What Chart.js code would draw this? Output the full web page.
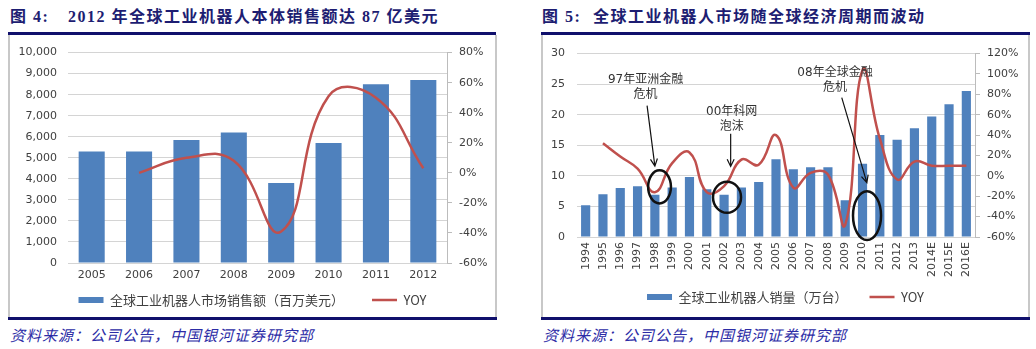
<!DOCTYPE html>
<html>
<head>
<meta charset="utf-8">
<script src="https://cdn.jsdelivr.net/npm/chart.js@4"></script>
<style>
  body { margin: 0; background: #fff; width: 1036px; height: 349px; position: relative; overflow: hidden; }
  .title { position: absolute; top: 6px; font-family: "Liberation Serif", "Noto Sans CJK SC", serif; font-weight: bold; font-size: 16px; color: #1d1d72; white-space: nowrap; letter-spacing: 1.5px; line-height: 22px; }
  .rule { position: absolute; height: 3px; background: #10106c; }
  .box { position: absolute; top: 35px; height: 282px; border-left: 2px solid #c8c8c8; border-right: 2px solid #c8c8c8; }
  .src { position: absolute; top: 325px; font-family: "Noto Sans CJK SC", sans-serif; font-style: italic; font-size: 15px; color: #2c2ca6; letter-spacing: 1px; white-space: nowrap; line-height: 20px; }
  canvas { position: absolute; }
</style>
</head>
<body>
<div class="title" style="left:10px">图 4:</div>
<div class="title" style="left:68px">2012 年全球工业机器人本体销售额达 87 亿美元</div>
<div class="title" style="left:542px">图 5:</div>
<div class="title" style="left:593px">全球工业机器人市场随全球经济周期而波动</div>

<div class="rule" style="left:8px; top:32px; width:488px"></div>
<div class="rule" style="left:8px; top:317px; width:489px"></div>
<div class="rule" style="left:541px; top:32px; width:489px"></div>
<div class="rule" style="left:541px; top:317px; width:489px"></div>

<div class="box" style="left:8px; width:485px"></div>
<div class="box" style="left:541px; width:485px"></div>

<canvas id="salesChart" style="left:10px; top:35px" width="485" height="282"></canvas>
<canvas id="unitChart" style="left:543px; top:35px" width="485" height="282"></canvas>

<div class="src" style="left:10px">资料来源：公司公告，中国银河证券研究部</div>
<div class="src" style="left:543px">资料来源：公司公告，中国银河证券研究部</div>

<script>
// Figure 4: global industrial robot sales (USD mn) and YOY
const salesYears = ['2005', '2006', '2007', '2008', '2009', '2010', '2011', '2012'];
const salesValues = [5300, 5300, 5850, 6200, 3800, 5700, 8500, 8700];
const salesYoy = [null, 0, 10, 8, -39, 51, 50, 3];
const salesTicks = [0, 1000, 2000, 3000, 4000, 5000, 6000, 7000, 8000, 9000, 10000];
const salesYoyTicks = [-60, -40, -20, 0, 20, 40, 60, 80];

// Figure 5: global industrial robot units (10k) and YOY
const unitYears = ['1994', '1995', '1996', '1997', '1998', '1999', '2000', '2001', '2002', '2003', '2004',
    '2005', '2006', '2007', '2008', '2009', '2010', '2011', '2012', '2013', '2014E', '2015E', '2016E'];
const unitValues = [5.2, 7.0, 8.0, 8.3, 6.9, 8.1, 9.8, 7.8, 6.9, 8.1, 9.0,
    12.7, 11.1, 11.4, 11.4, 6.0, 12.0, 16.7, 15.9, 17.8, 19.7, 21.7, 23.9];
const unitYoy = [null, 32, 19, 7, -16, 12.5, 23, -16, -10, 16, 11,
    40, -11.5, 3, 1.3, -48, 104, 36.5, -3.5, 14, 10, 10, 10];
const unitTicks = [0, 5, 10, 15, 20, 25, 30];
const unitYoyTicks = [-60, -40, -20, 0, 20, 40, 60, 80, 100, 120];

// crisis call-outs, in (category index, left-axis value)
const crisisNotes = [
    { text: ['97年亚洲金融', '危机'], at: [3.46, 25.7], from: [3.55, 21.5], to: [4.0, 11.6], ring: [4.27, 8.2, 0.66, 2.7] },
    { text: ['00年科网', '泡沫'], at: [8.44, 20.5], from: [8.38, 16.9], to: [8.38, 11.55], ring: [8.17, 6.5, 0.81, 2.55] },
    { text: ['08年全球金融', '危机'], at: [14.41, 26.8], from: [14.8, 22.8], to: [16.25, 8.9], ring: [16.26, 3.5, 0.81, 4.0] }
];

const BAR_BLUE = '#4f81bd';
const LINE_RED = '#c0504d';
const TEXT_GREY = '#404040';
const GRID_GREY = '#d4d4d4';
const AXIS_GREY = '#bcbcbc';
const tickFont = { family: 'DejaVu Sans', size: 11 };
const legendFont = { family: 'Noto Sans CJK SC', size: 13 };

function fixTicks(values) {
    return function (scale) {
        scale.ticks = values.map(v => ({ value: v }));
    };
}

function fixWidth(w) {
    return function (scale) { scale.width = w; };
}

function fixHeight(h) {
    return function (scale) { scale.height = h; };
}

function buildOptions(cfg) {
    return {
        responsive: false,
        animation: false,
        layout: { padding: cfg.padding },
        plugins: {
            tooltip: { enabled: false },
            legend: {
                position: 'bottom',
                // empty title with negative padding: keeps the wide gap between items
                // without pushing the legend row down
                title: { display: true, text: '', font: { size: 1 }, padding: { top: -cfg.legendLift, bottom: 0 } },
                labels: {
                    usePointStyle: true,
                    pointStyleWidth: 25,
                    boxWidth: 25,
                    boxHeight: 6,
                    padding: cfg.legendGap,
                    color: TEXT_GREY,
                    font: legendFont,
                    sort: (a, b) => a.datasetIndex - b.datasetIndex
                }
            }
        },
        scales: {
            x: {
                grid: { display: false, drawTicks: false },
                border: { display: false },
                ticks: {
                    color: TEXT_GREY, font: tickFont, padding: cfg.xPad,
                    autoSkip: false, minRotation: cfg.rotation, maxRotation: cfg.rotation
                },
                afterFit: fixHeight(cfg.xHeight)
            },
            y: {
                position: 'left',
                min: cfg.yTicks[0], max: cfg.yTicks[cfg.yTicks.length - 1],
                grid: { color: GRID_GREY, drawTicks: false },
                border: { display: false },
                ticks: { color: TEXT_GREY, font: tickFont, padding: cfg.yPad, callback: cfg.yFormat },
                afterBuildTicks: fixTicks(cfg.yTicks),
                afterFit: fixWidth(cfg.yWidth)
            },
            y1: {
                position: 'right',
                min: cfg.y1Ticks[0], max: cfg.y1Ticks[cfg.y1Ticks.length - 1],
                grid: { drawOnChartArea: false, color: AXIS_GREY, tickLength: 5 },
                border: { display: true, color: AXIS_GREY },
                ticks: { color: TEXT_GREY, font: tickFont, padding: 7, callback: v => v + '%' },
                afterBuildTicks: fixTicks(cfg.y1Ticks),
                afterFit: fixWidth(cfg.y1Width)
            }
        }
    };
}

// draws the arrows, rings and captions of figure 5
const crisisPlugin = {
    id: 'crisis',
    afterDatasetsDraw(chart) {
        const ctx = chart.ctx;
        const xs = chart.scales.x;
        const ys = chart.scales.y;
        const px = v => xs.getPixelForValue(v);
        const py = v => ys.getPixelForValue(v);
        const unitX = px(1) - px(0);
        const unitY = py(0) - py(1);
        ctx.save();
        crisisNotes.forEach(n => {
            // caption
            ctx.fillStyle = '#333';
            ctx.font = '12px "DejaVu Sans", "Noto Sans CJK SC"';
            ctx.textAlign = 'center';
            ctx.textBaseline = 'middle';
            n.text.forEach((t, i) => ctx.fillText(t, px(n.at[0]), py(n.at[1]) + i * 15));

            // arrow
            const x1 = px(n.from[0]), y1 = py(n.from[1]);
            const x2 = px(n.to[0]), y2 = py(n.to[1]);
            const ang = Math.atan2(y2 - y1, x2 - x1);
            ctx.strokeStyle = '#111';
            ctx.lineWidth = 1.2;
            ctx.beginPath();
            ctx.moveTo(x1, y1);
            ctx.lineTo(x2, y2);
            ctx.moveTo(x2 - 8 * Math.cos(ang - 0.45), y2 - 8 * Math.sin(ang - 0.45));
            ctx.lineTo(x2, y2);
            ctx.lineTo(x2 - 8 * Math.cos(ang + 0.45), y2 - 8 * Math.sin(ang + 0.45));
            ctx.stroke();

            // ring
            ctx.lineWidth = 2.5;
            ctx.beginPath();
            ctx.ellipse(px(n.ring[0]), py(n.ring[1]), n.ring[2] * unitX, n.ring[3] * unitY, 0, 0, Math.PI * 2);
            ctx.stroke();
        });
        ctx.restore();
    }
};

new Chart(document.getElementById('salesChart'), {
    type: 'bar',
    data: {
        labels: salesYears,
        datasets: [
            {
                label: '全球工业机器人市场销售额（百万美元）',
                data: salesValues,
                backgroundColor: BAR_BLUE,
                borderWidth: 0,
                barPercentage: 0.55,
                categoryPercentage: 1,
                pointStyle: 'rect',
                yAxisID: 'y',
                order: 1
            },
            {
                type: 'line',
                label: 'YOY',
                data: salesYoy,
                borderColor: LINE_RED,
                backgroundColor: LINE_RED,
                borderWidth: 2.5,
                pointRadius: 0,
                pointStyle: 'line',
                tension: 0.45,
                yAxisID: 'y1',
                order: 0
            }
        ]
    },
    options: buildOptions({
        padding: { top: 13, left: 0, right: 0, bottom: 0.5 },
        legendGap: 28, legendLift: 26.7,
        xPad: 6, xHeight: 28, rotation: 0,
        yTicks: salesTicks, yWidth: 58, yPad: 11,
        yFormat: v => v.toLocaleString('en-US'),
        y1Ticks: salesYoyTicks, y1Width: 48
    })
});

new Chart(document.getElementById('unitChart'), {
    type: 'bar',
    data: {
        labels: unitYears,
        datasets: [
            {
                label: '全球工业机器人销量（万台）',
                data: unitValues,
                backgroundColor: BAR_BLUE,
                borderWidth: 0,
                barPercentage: 0.53,
                categoryPercentage: 1,
                pointStyle: 'rect',
                yAxisID: 'y',
                order: 1
            },
            {
                type: 'line',
                label: 'YOY',
                data: unitYoy,
                borderColor: LINE_RED,
                backgroundColor: LINE_RED,
                borderWidth: 2.5,
                pointRadius: 0,
                pointStyle: 'line',
                tension: 0.45,
                yAxisID: 'y1',
                order: 0
            }
        ]
    },
    options: buildOptions({
        padding: { top: 15, left: 0, right: 0, bottom: 3.5 },
        legendGap: 22, legendLift: 9.7,
        xPad: 5, xHeight: 40, rotation: 90,
        yTicks: unitTicks, yWidth: 34, yPad: 12,
        yFormat: v => v,
        y1Ticks: unitYoyTicks, y1Width: 53
    }),
    plugins: [crisisPlugin]
});
</script>
</body>
</html>
